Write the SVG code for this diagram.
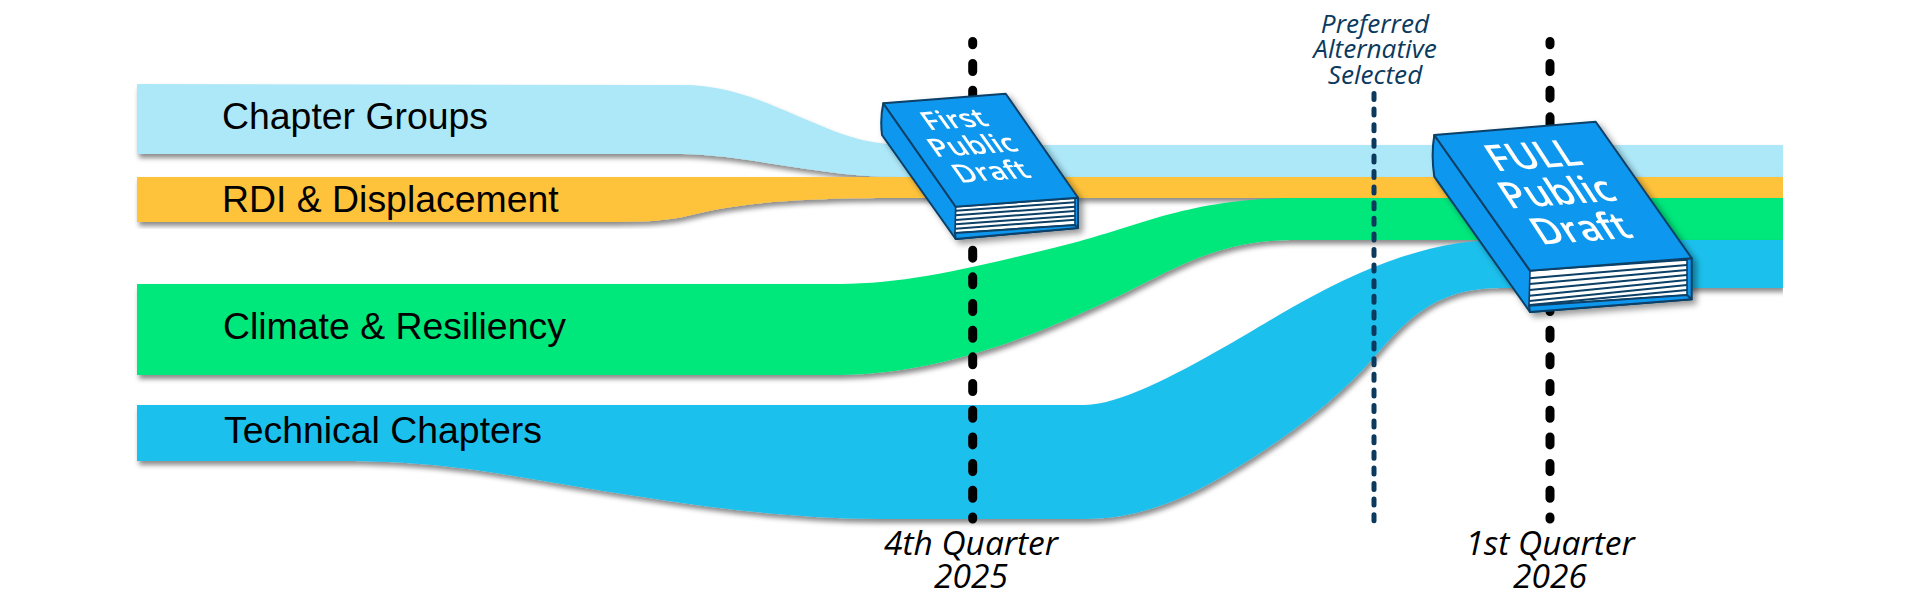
<svg xmlns="http://www.w3.org/2000/svg" width="1920" height="600" viewBox="0 0 1920 600">
<defs>
<filter id="sh" x="-5%" y="-10%" width="110%" height="125%"><feDropShadow dx="2" dy="4" stdDeviation="2.5" flood-color="#000" flood-opacity="0.45"/></filter>
<filter id="bs" x="-10%" y="-10%" width="125%" height="125%"><feDropShadow dx="4" dy="4" stdDeviation="3" flood-color="#000" flood-opacity="0.4"/></filter>
<clipPath id="cl"><rect x="100" y="60" width="1683" height="500"/></clipPath>
</defs>
<style>
.lbl{font-family:"Liberation Sans",Arial,sans-serif;font-size:37.4px;fill:#000}
.q{font-family:"Open Sans",sans-serif;font-style:italic;font-size:33.5px;fill:#000;text-anchor:middle}
.p{font-family:"Open Sans",sans-serif;font-style:italic;font-size:26.2px;fill:#0b3a5e;text-anchor:middle}
.bt{font-family:"Open Sans",sans-serif;font-weight:600;fill:#fff;text-anchor:middle}
.cov{fill:#0a97ee;stroke:#083f66;stroke-width:2;stroke-linejoin:round}
.pg{fill:#fff;stroke:#083f66;stroke-width:1.6;stroke-linejoin:round}
.ln{fill:none;stroke:#083f66;stroke-width:2}
.bk{stroke-linecap:round;stroke-width:9;stroke:#000;fill:none;stroke-dasharray:8 18.67;stroke-dashoffset:4.67}
</style>
<g id="band-chapter" clip-path="url(#cl)">
<path filter="url(#sh)" fill="#ade8f9" d="M137 84L682 85C735 85 770 105 824 127C850 138 875 145 910 145H1783V177H900C820 177 750 155 682 154H137Z"/>
</g>
<g id="band-rdi" clip-path="url(#cl)">
<path filter="url(#sh)" fill="#ffc33a" d="M137 177H1783V198H900C790 198 740 203 687 216C665 221 645 222 600 222H137Z"/>
</g>
<g id="band-climate" clip-path="url(#cl)">
<path filter="url(#sh)" fill="#00e77b" d="M137 284H840C910 284 980 266 1073 243C1140 226 1190 198 1300 198H1783V240H1290C1210 241 1165 275 1110 300C1050 328 950 374 840 375H137Z"/>
</g>
<g id="band-technical" clip-path="url(#cl)">
<path filter="url(#sh)" fill="#1fc0ec" d="M137 405H1085C1120 404 1170 378 1228 345C1290 310 1390 240 1500 240H1783V288H1500C1440 288 1410 315 1376 355C1340 397 1290 436 1228 473C1180 502 1135 519 1085 519H880C760 519 640 497 508 475C440 464 400 461 330 461H137Z"/>
</g>
<g id="connectors">
<line class="bk" x1="972.7" y1="41.5" x2="972.7" y2="519"/>
<line class="bk" x1="1550" y1="41.5" x2="1550" y2="519"/>
<line x1="1374" y1="93.5" x2="1374" y2="521" stroke="#0b3a5e" stroke-width="5" stroke-linecap="round" stroke-dasharray="6 9.6" fill="none"/>
</g>
<g id="labels">
<text class="lbl" x="222" y="129">Chapter Groups</text>
<text class="lbl" x="222" y="212">RDI &amp; Displacement</text>
<text class="lbl" x="223" y="339">Climate &amp; Resiliency</text>
<text class="lbl" x="224" y="443">Technical Chapters</text>
</g>
<g id="label-q4"><text class="q" x="971" y="555">4th Quarter</text><text class="q" x="971" y="588">2025</text></g>
<g id="label-q1"><text class="q" x="1550" y="555">1st Quarter</text><text class="q" x="1550" y="588">2026</text></g>
<g id="label-preferred"><text class="p" x="1375" y="33">Preferred</text><text class="p" x="1375" y="58">Alternative</text><text class="p" x="1375" y="84">Selected</text></g>
<g id="book-first" filter="url(#bs)">
<path class="cov" d="M955.7 206.7L1078 197.7V228L955.7 239L882 135Q880 118 883.3 103.3Z"/>
<path class="pg" d="M955.7 206.7L1075 198.3V225L955 233Z"/>
<path class="ln" d="M955.5 210.7L1075 202.3M955.5 215.3L1075 206.7M955.5 220L1075 211M955.5 224.3L1075 215.7M955.5 228.7L1075 219.7"/>
<path class="cov" d="M955 233L1075 225L1078 228L955.7 239Z"/>
<path class="cov" d="M883.3 103.3L1005.7 93.7L1078 197.7L955.7 206.7Z"/>
<g transform="matrix(0.997,-0.073,0.6,0.85,960,128)" class="bt" font-size="29"><text x="0" y="0">First</text><text x="0" y="30.6">Public</text><text x="0" y="61.2">Draft</text></g>
</g>
<g id="book-full" filter="url(#bs)">
<path class="cov" d="M1530 270.7L1691.7 258.3V299.3L1530 312L1434.3 176.7Q1431 155 1434.3 135Z"/>
<path class="pg" d="M1530 270.7L1687 260V295L1529 305.7Z"/>
<path class="ln" d="M1529.5 278.3L1687 265M1529.5 284L1687 270M1529.5 290L1687 275M1529.5 295.7L1687 280M1529.5 301L1687 285M1529.5 305L1687 290"/>
<path class="cov" d="M1529 305.7L1687 295L1691.7 299.3L1530 312Z"/>
<path class="cov" d="M1434.3 135L1595.7 121.7L1691.7 258.3L1530 270.7Z"/>
<g transform="matrix(0.997,-0.073,0.62,0.95,1541,168)" class="bt" font-size="37.5"><text x="0" y="0">FULL</text><text x="0" y="38.4">Public</text><text x="0" y="76.8">Draft</text></g>
</g>
</svg>
